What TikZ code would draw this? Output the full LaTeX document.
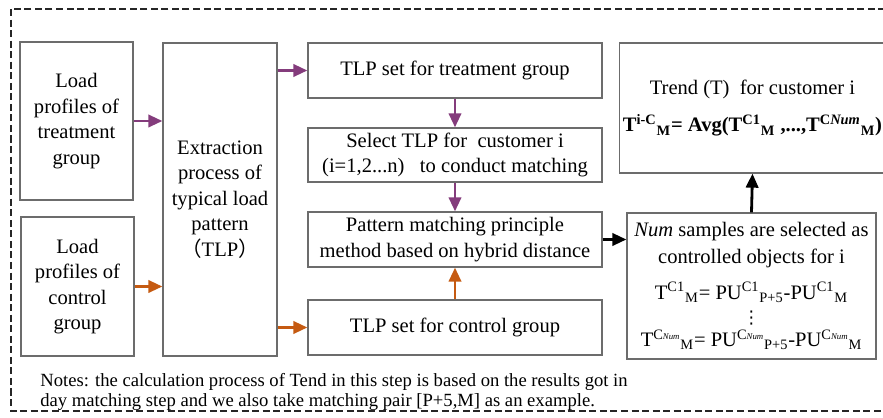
\documentclass[tikz,border=0pt]{standalone}
\usepackage{fontspec}
\setmainfont{Liberation Serif}
\newfontfamily\cjk{Noto Sans CJK SC}
\newfontfamily\symfont{DejaVu Sans}
\usepackage{xcolor}
\usetikzlibrary{arrows.meta,positioning,calc}
\definecolor{trtpurple}{HTML}{843C7C}
\definecolor{ctlorange}{HTML}{C55A11}
\begin{document}
\begin{tikzpicture}[
        x=0.02cm, y=-0.02cm,
        font=\fontsize{11.7}{14.5}\selectfont,
        box/.style={
            draw=gray!85!black, line width=0.7pt,
            align=center, inner sep=2pt
        },
        frame/.style={draw=black!85, line width=1.4pt, dash pattern=on 4pt off 2pt},
        arrow/.style={-{Triangle[length=8pt,width=7pt]}, line width=1.6pt},
        trtarrow/.style={arrow, trtpurple},
        ctlarrow/.style={arrow, ctlorange},
        notes/.style={font=\fontsize{10.6}{11.8}\selectfont, align=left, inner sep=0pt}
    ]

    % page and dashed frame
    \useasboundingbox (0,0) rectangle (883,418);
    \begin{scope}
        \clip (0,0) rectangle (883,418);
        \draw[frame] (11,9) rectangle (900,411);
    \end{scope}

    % left column
    \node[box, minimum width=2.26cm, minimum height=3.16cm] (trt) at (76.5,121) {Load\\profiles of\\treatment\\group};
    \node[box, minimum width=2.26cm, minimum height=2.78cm] (ctl) at (77.5,286.5) {Load\\profiles of\\control\\group};
    \node[box, minimum width=2.28cm, minimum height=6.26cm] (ext) at (220,199.5) {Extraction\\process of\\typical load\\pattern\\{\cjk （}TLP{\cjk ）}};

    % middle column
    \node[box, minimum width=5.88cm, minimum height=1.1cm] (tlpT) at (455,70.5) {TLP set for treatment group};
    \node[box, minimum width=5.88cm, minimum height=1.08cm] (sel) at (455,155) {Select TLP for~ customer i\\(i=1,2...n)~~~to conduct matching};
    \node[box, minimum width=5.88cm, minimum height=1.1cm] (pat) at (455,239.5) {Pattern matching principle\\method based on hybrid distance};
    \node[box, minimum width=5.88cm, minimum height=1.1cm] (tlpC) at (455,327.5) {TLP set for control group};

    % right column
    \node[box, minimum width=4.98cm, minimum height=2.6cm] (trend) at (752.5,108) {Trend (T)~ for customer i\\[7pt]
        \textbf{T\textsuperscript{i-C}\textsubscript{M}= Avg(T\textsuperscript{C1}\textsubscript{M} ,...,T\textsuperscript{C\textit{Num}}\textsubscript{M})}};
    \node[box, minimum width=4.98cm, minimum height=2.92cm] (num) at (751.5,286) {\textit{Num} samples are selected as\\[1pt]controlled objects for i\\[6pt]
        T\textsuperscript{C1}\textsubscript{M}= PU\textsuperscript{C1}\textsubscript{P+5}-PU\textsuperscript{C1}\textsubscript{M}\\[-1pt]
        {\symfont\fontsize{10}{10}\selectfont ⋮}\\[-1pt]
        T\textsuperscript{C{\tiny\itshape Num}}\textsubscript{M}= PU\textsuperscript{C{\tiny\itshape Num}}\textsubscript{P+5}-PU\textsuperscript{C{\tiny\itshape Num}}\textsubscript{M}};

    % notes
    \node[notes, anchor=west] (note) at (40,392) {Notes: the calculation process of Tend in this step is based on the results got in\\day matching step and we also take matching pair [P+5,M] as an example.};

    % arrows
    \draw[trtarrow] (trt.east) -- (trt.east -| ext.west);
    \draw[ctlarrow] (ctl.east) -- (ctl.east -| ext.west);
    \draw[trtarrow] (ext.east |- tlpT) -- (tlpT.west);
    \draw[ctlarrow] (ext.east |- tlpC) -- (tlpC.west);
    \draw[trtarrow] (tlpT.south) -- (sel.north);
    \draw[trtarrow] (sel.south) -- (pat.north);
    \draw[ctlarrow] (tlpC.north) -- (pat.south);
    \draw[arrow] (pat.east) -- (pat.east -| num.west);
    \draw[arrow] (num.north) -- (trend.south);

\end{tikzpicture}
\end{document}
